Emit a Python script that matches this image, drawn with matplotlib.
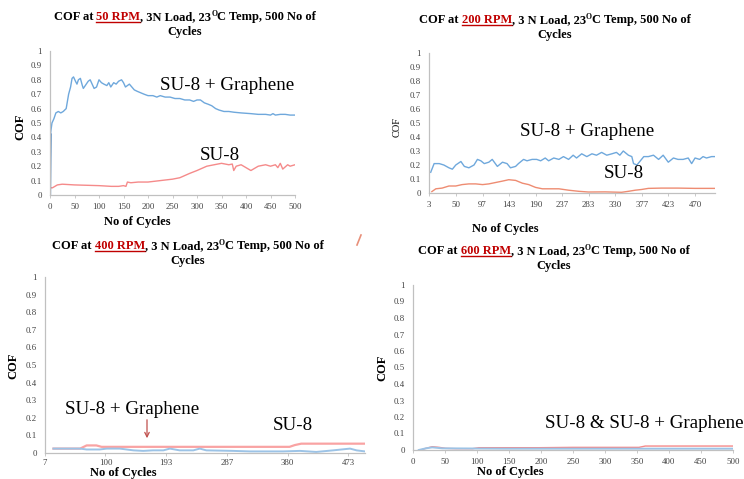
import numpy as np
import matplotlib
matplotlib.use('Agg')
import matplotlib.pyplot as plt
from matplotlib.lines import Line2D

W, H = 744, 479
SERIF = 'Liberation Serif'
plt.rcParams['font.family'] = SERIF

# ---- data ----
# 50 RPM
x50_g = [0, 1, 2, 4, 8, 12, 17, 22, 27, 33, 38, 42, 45, 48, 52, 55, 58, 62, 66, 68, 72, 78, 82, 86, 90,
         95, 100, 105, 110, 116, 120, 124, 130, 135, 140, 146, 150, 154, 158, 162, 167, 172, 178, 185,
         192, 200, 210, 218, 225, 235, 245, 255, 265, 275, 285, 293, 300, 307, 315, 323, 330, 338, 345,
         355, 365, 375, 390, 410, 425, 440, 450, 455, 460, 470, 480, 490, 500]
y50_g = [0.0, 0.42, 0.45, 0.50, 0.53, 0.57, 0.58, 0.57, 0.58, 0.60, 0.70, 0.75, 0.81, 0.82, 0.79, 0.77,
         0.80, 0.81, 0.76, 0.74, 0.76, 0.79, 0.80, 0.77, 0.74, 0.75, 0.80, 0.78, 0.77, 0.76, 0.78, 0.75,
         0.78, 0.77, 0.79, 0.80, 0.78, 0.75, 0.76, 0.77, 0.75, 0.73, 0.72, 0.71, 0.70, 0.69, 0.69, 0.68,
         0.69, 0.68, 0.68, 0.67, 0.67, 0.66, 0.66, 0.65, 0.66, 0.66, 0.64, 0.63, 0.62, 0.60, 0.59, 0.58,
         0.58, 0.575, 0.57, 0.565, 0.56, 0.56, 0.555, 0.565, 0.555, 0.56, 0.56, 0.555, 0.555]
x50_s = [1, 5, 15, 25, 50, 100, 125, 140, 150, 155, 158, 165, 180, 200, 225, 250, 265, 285, 300, 320,
         335, 350, 365, 372, 375, 380, 390, 400, 410, 425, 440, 450, 460, 465, 470, 475, 485, 490, 500]
y50_s = [0.05, 0.05, 0.07, 0.075, 0.07, 0.065, 0.06, 0.06, 0.065, 0.06, 0.09, 0.085, 0.09, 0.09, 0.10,
         0.11, 0.12, 0.15, 0.17, 0.20, 0.21, 0.22, 0.21, 0.215, 0.17, 0.20, 0.21, 0.19, 0.17, 0.20, 0.21,
         0.20, 0.21, 0.19, 0.22, 0.18, 0.21, 0.20, 0.21]

# 200 RPM
x200_g = [6, 12, 21, 29, 38, 44, 50, 59, 65, 73, 82, 88, 94, 100, 108, 114, 123, 132, 140, 146, 155, 160,
          169, 175, 184, 192, 199, 207, 213, 222, 231, 239, 248, 256, 262, 271, 280, 289, 297, 306, 315,
          324, 332, 338, 344, 353, 359, 362, 368, 374, 380, 388, 397, 406, 414, 423, 432, 440, 449, 458,
          464, 470, 478, 484, 490, 499, 505]
y200_g = [0.148, 0.21, 0.21, 0.20, 0.18, 0.17, 0.20, 0.225, 0.19, 0.18, 0.20, 0.24, 0.23, 0.21, 0.22,
          0.24, 0.19, 0.22, 0.21, 0.18, 0.19, 0.21, 0.24, 0.23, 0.24, 0.24, 0.23, 0.25, 0.23, 0.25, 0.24,
          0.26, 0.24, 0.27, 0.25, 0.28, 0.26, 0.28, 0.27, 0.29, 0.27, 0.28, 0.29, 0.27, 0.30, 0.27, 0.26,
          0.21, 0.20, 0.23, 0.26, 0.26, 0.27, 0.24, 0.27, 0.22, 0.25, 0.24, 0.24, 0.25, 0.21, 0.25, 0.24,
          0.26, 0.25, 0.26, 0.26]
x200_s = [8, 15, 26, 38, 50, 61, 73, 85, 97, 108, 120, 132, 143, 155, 167, 178, 190, 202, 214, 231, 248,
          266, 283, 312, 341, 353, 365, 376, 388, 411, 440, 470, 505]
y200_s = [0.01, 0.03, 0.035, 0.05, 0.05, 0.06, 0.065, 0.065, 0.06, 0.065, 0.075, 0.085, 0.095, 0.09,
          0.07, 0.06, 0.04, 0.03, 0.03, 0.03, 0.02, 0.012, 0.007, 0.008, 0.005, 0.012, 0.02, 0.025,
          0.033, 0.035, 0.035, 0.033, 0.033]
ticks200 = [3, 50, 97, 143, 190, 237, 283, 330, 377, 423, 470]

# 400 RPM
x400_s = [20, 30, 61, 71, 86, 94, 143, 245, 383, 391, 401, 450, 499]
y400_s = [0.025, 0.025, 0.025, 0.043, 0.043, 0.035, 0.035, 0.035, 0.035, 0.045, 0.053, 0.053, 0.053]
x400_g = [20, 61, 71, 91, 102, 122, 143, 158, 173, 189, 199, 214, 235, 245, 255, 296, 322, 373, 399,
          424, 450, 476, 486, 499]
y400_g = [0.025, 0.025, 0.02, 0.02, 0.025, 0.025, 0.015, 0.012, 0.015, 0.015, 0.025, 0.015, 0.015,
          0.025, 0.015, 0.012, 0.009, 0.009, 0.012, 0.006, 0.015, 0.025, 0.015, 0.009]
ticks400 = [7, 100, 193, 287, 380, 473]

# 600 RPM
x600_s = [12, 20, 30, 41, 51, 67, 93, 103, 197, 249, 353, 363, 500]
y600_s = [0.0, 0.01, 0.02, 0.016, 0.01, 0.008, 0.008, 0.014, 0.014, 0.016, 0.016, 0.024, 0.024]
x600_g = [9, 20, 30, 46, 145, 249, 353, 500]
y600_g = [0.0, 0.01, 0.016, 0.01, 0.008, 0.008, 0.008, 0.008]

BLUE = '#6FA8DC'
RED = '#F58A8A'

fig = plt.figure(figsize=(W / 100, H / 100), dpi=100)
fig.patch.set_facecolor('white')


def px(x, y):
    return x / W, 1 - y / H


def make_ax(l, r, y0, y1, xlim, xticks, xlabels=None):
    ax = fig.add_axes([l / W, 1 - y0 / H, (r - l) / W, (y0 - y1) / H])
    ax.set_xlim(*xlim)
    ax.set_ylim(0, 1)
    ax.set_yticks(np.arange(0, 1.01, 0.1))
    ax.set_yticklabels(['0', '0.1', '0.2', '0.3', '0.4', '0.5', '0.6', '0.7', '0.8', '0.9', '1'])
    ax.set_xticks(xticks)
    if xlabels is not None:
        ax.set_xticklabels(xlabels)
    for s in ['top', 'right']:
        ax.spines[s].set_visible(False)
    for s in ['left', 'bottom']:
        ax.spines[s].set_color('#C0C0C0')
        ax.spines[s].set_linewidth(0.9)
    ax.tick_params(axis='both', labelsize=6.3, colors='#C0C0C0', labelcolor='#404040', length=2,
                   width=0.6, pad=4)
    ax.tick_params(axis='y', length=0, pad=6)
    ax.patch.set_alpha(0)
    return ax


def title(cx, y, rpm, load, size=9):
    r = fig.canvas.get_renderer()
    parts = [('COF at', 'black', False, False, 0),
             (rpm + ' RPM', '#C00000', True, False, 2.8),
             (', ' + load + ' Load, 23', 'black', False, False, 0),
             ('O', 'black', False, True, 0),
             ('C Temp, 500 No of', 'black', False, False, 0)]
    items = []
    x = 0
    for s, col, under, sup, gap in parts:
        x += gap
        fs = size * 0.62 if sup else size
        yy = y - 3.8 if sup else y
        t = fig.text(*px(x, yy), s, fontsize=fs, fontweight='bold', color=col, va='baseline', ha='left')
        w = t.get_window_extent(r).width
        items.append((t, x, yy, w, under))
        x += w
    shift = cx - x / 2
    for t, x0, yy, w, under in items:
        t.set_position(px(x0 + shift, yy))
        if under:
            fig.add_artist(Line2D([(x0 + shift) / W, (x0 + shift + w) / W],
                                  [1 - (y + 1.8) / H, 1 - (y + 1.8) / H],
                                  color='#C00000', lw=1.0))
    fig.text(*px(cx, y + 15), 'Cycles', fontsize=size, fontweight='bold', va='baseline', ha='center')


def label(x, y, s, size=13.7, **kw):
    fig.text(*px(x, y), s, fontsize=size, va='center', **kw)


# ---- panel 1: 50 RPM ----
ax1 = make_ax(50, 295, 195, 51, (0, 500), np.arange(0, 501, 50))
ax1.plot(x50_s, y50_s, color=RED, lw=1.0)
ax1.plot(x50_g, y50_g, color=BLUE, lw=1.0)
ax1.plot(x50_g[:2], y50_g[:2], color='#2E6EB0', lw=1.6)
title(185, 20, '50', '3N')
label(20, 127, 'COF', size=9, fontweight='bold', rotation=90, ha='center')
label(137, 222, 'No of Cycles', size=9, fontweight='bold', ha='center')
label(160, 85, 'SU-8 + Graphene', ha='left')
label(200, 155, 'SU-8', ha='left')

# ---- panel 2: 200 RPM ----
ax2 = make_ax(429, 715, 193, 53, (3, 505), ticks200)
ax2.plot(x200_s, y200_s, color='#EE8C72', lw=1.0)
ax2.plot(x200_g, y200_g, color=BLUE, lw=1.0)
title(555, 23, '200', '3 N')
label(397, 127, 'COF', size=7.5, rotation=90, ha='center')
label(505, 229, 'No of Cycles', size=9, fontweight='bold', ha='center')
label(520, 131, 'SU-8 + Graphene', ha='left')
label(604, 173, 'SU-8', ha='left')

# ---- panel 3: 400 RPM ----
ax3 = make_ax(45, 365, 453, 277, (7, 499), ticks400)
ax3.tick_params(axis='x', pad=2)
ax3.plot(x400_s, y400_s, color='#F9A3A3', lw=1.6)
ax3.plot(x400_g, y400_g, color='#9CC3E6', lw=1.4)
title(188, 249, '400', '3 N')
label(13, 366, 'COF', size=9, fontweight='bold', rotation=90, ha='center')
label(123, 473, 'No of Cycles', size=9, fontweight='bold', ha='center')
label(65, 409, 'SU-8 + Graphene', ha='left')
label(273, 426, 'SU-8', ha='left')
ax3.annotate('', xy=(px(147, 441)), xycoords='figure fraction', xytext=(px(147, 417)),
             textcoords='figure fraction',
             arrowprops=dict(arrowstyle='->', color='#C0504D', lw=0.9, mutation_scale=8))

# ---- panel 4: 600 RPM ----
ax4 = make_ax(413, 733, 450, 285, (0, 500), np.arange(0, 501, 50))
ax4.plot(x600_s, y600_s, color=RED, lw=1.0)
ax4.plot(x600_g, y600_g, color='#9CC3E6', lw=1.4)
title(554, 254, '600', '3 N')
label(382, 368, 'COF', size=9, fontweight='bold', rotation=90, ha='center')
label(510, 472, 'No of Cycles', size=9, fontweight='bold', ha='center')
label(545, 424, 'SU-8 & SU-8 + Graphene', ha='left')

# small stray red mark
fig.add_artist(Line2D([357 / W, 361 / W], [1 - 245 / H, 1 - 235 / H], color='#E8907A', lw=1.2))

fig.savefig('out.png', dpi=100, facecolor='white')
